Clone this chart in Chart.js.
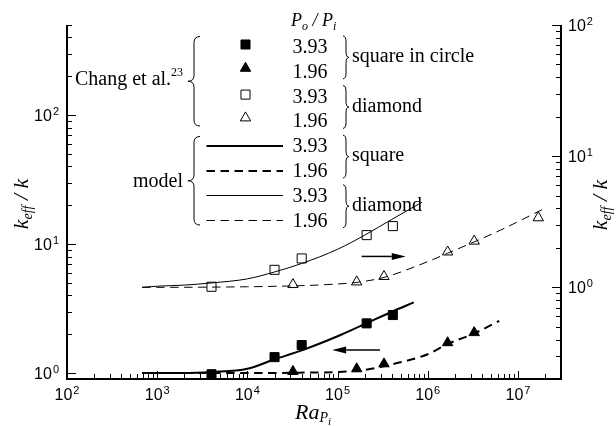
<!DOCTYPE html>
<html>
<head>
<meta charset="utf-8">
<script src="https://cdn.jsdelivr.net/npm/chart.js@4.4.0/dist/chart.umd.min.js"></script>
<style>
  html, body { margin: 0; padding: 0; background: #fff; }
  #wrap { width: 616px; height: 426px; position: relative; }
</style>
</head>
<body>
<div id="wrap"><canvas id="c" width="616" height="426"></canvas></div>
<script>
// ---- Experimental data (Chang et al.): Rayleigh number Ra_Pi and k_eff/k ----
const raSqCircle393 = [4.0e3, 2.0e4, 4.0e4, 2.1e5, 4.1e5];
const kSqCircle393  = [0.98, 1.33, 1.65, 2.43, 2.82];
const raSqCircle196 = [3.2e4, 1.63e5, 3.27e5, 1.66e6, 3.27e6];
const kSqCircle196  = [1.03, 1.08, 1.18, 1.72, 2.06];
const raDiamond393  = [4.0e3, 2.0e4, 4.0e4, 2.1e5, 4.1e5];
const kDiamond393   = [1.01, 1.36, 1.66, 2.5, 2.93];
const raDiamond196  = [3.2e4, 1.63e5, 3.27e5, 1.66e6, 3.27e6, 1.68e7];
const kDiamond196   = [1.05, 1.10, 1.21, 1.86, 2.25, 3.39];

// ---- Model curves ----
const raModelSquare393 = [680, 1e3, 2e3, 4e3, 1e4, 2e4, 4e4, 1e5, 2e5, 4e5, 7e5];
const kModelSquare393  = [1.0, 1.0, 1.0, 1.02, 1.08, 1.28, 1.5, 1.93, 2.4, 2.99, 3.53];
const raModelSquare196 = [680, 1e3, 1e4, 5e4, 1e5, 2e5, 4e5, 1e6, 1.66e6, 3.27e6, 6.2e6];
const kModelSquare196  = [1.0, 1.0, 1.0, 1.01, 1.02, 1.06, 1.17, 1.40, 1.68, 2.03, 2.54];
const raModelDiamond393 = [680, 1e3, 2e3, 4e3, 1e4, 2e4, 4e4, 1e5, 2e5, 4e5, 8.6e5];
const kModelDiamond393  = [1.0, 1.02, 1.04, 1.08, 1.16, 1.31, 1.52, 1.95, 2.5, 3.3, 4.45];
const raModelDiamond196 = [680, 1e3, 1e4, 4e4, 1e5, 1.63e5, 3.27e5, 1e6, 1.66e6, 3.27e6, 6.4e6, 1.88e7];
const kModelDiamond196  = [1.0, 1.0, 1.01, 1.03, 1.06, 1.09, 1.19, 1.57, 1.82, 2.22, 2.73, 3.93];

// ---- Legend texts ----
const ratioLabels = ['3.93', '1.96', '3.93', '1.96', '3.93', '1.96', '3.93', '1.96'];
const groupLabels = ['square in circle', 'diamond', 'square', 'diamond'];

// ---- Arrow annotations (which axis each family belongs to) ----
const arrowRightRa = [1.85e5, 5.7e5];  // points to the right-hand axis
const arrowRightK  = 1.72;
const arrowLeftRa  = [2.95e5, 8.7e4];  // points to the left-hand axis
const arrowLeftK   = 1.51;

const pts = (xs, ys) => xs.map((x, i) => ({ x: x, y: ys[i] }));
const DASH = [8.5, 5.5];

const modelLine = (data, axis, width, dash) => ({
  data: data, yAxisID: axis, showLine: true, fill: false,
  borderColor: '#000', borderWidth: width, borderDash: dash || [],
  pointRadius: 0, cubicInterpolationMode: 'monotone'
});
const marker = (data, axis, style, radius, filled) => ({
  data: data, yAxisID: axis, showLine: false,
  pointStyle: style, pointRadius: radius, pointHoverRadius: radius,
  pointBackgroundColor: filled ? '#000' : 'rgba(0,0,0,0)',
  pointBorderColor: '#000', pointBorderWidth: 1
});

const SERIF = '"Liberation Serif", "Times New Roman", serif';
const SANS = '"Liberation Sans", Arial, sans-serif';

function logTicks(min, max) {
  const out = [];
  for (let e = Math.floor(Math.log10(min)); e <= Math.ceil(Math.log10(max)); e++) {
    for (let m = 1; m <= 9; m++) {
      const v = m * Math.pow(10, e);
      if (v >= min * 0.999 && v <= max * 1.001) out.push({ v: v, major: m === 1, e: e });
    }
  }
  return out;
}

function powLabel(c, x, y, e, align) {
  c.font = '16px ' + SANS;
  const wb = c.measureText('10').width;
  c.font = '11px ' + SANS;
  const we = c.measureText(String(e)).width;
  const total = wb + 1 + we;
  let x0 = x;
  if (align === 'center') x0 = x - total / 2;
  else if (align === 'right') x0 = x - total;
  c.textAlign = 'left';
  c.textBaseline = 'alphabetic';
  c.font = '16px ' + SANS;
  c.fillText('10', x0, y);
  c.font = '11px ' + SANS;
  c.fillText(String(e), x0 + wb + 1, y - 6);
}

// pieces: [text, font, dy]
function richText(c, pieces, x, y, align) {
  let total = 0;
  pieces.forEach(p => { c.font = p[1]; total += c.measureText(p[0]).width; });
  let cx = align === 'center' ? x - total / 2 : (align === 'right' ? x - total : x);
  c.textAlign = 'left';
  c.textBaseline = 'alphabetic';
  pieces.forEach(p => {
    c.font = p[1];
    c.fillText(p[0], cx, y + p[2]);
    cx += c.measureText(p[0]).width;
  });
}

// curly brace; dir = 1 opens to the right "{", dir = -1 is "}"
function brace(c, xTip, y1, y2, w, dir) {
  const xs = xTip + dir * w / 2, xe = xTip + dir * w;
  const ym = (y1 + y2) / 2, r = Math.min(6, (y2 - y1) / 6);
  c.beginPath();
  c.moveTo(xe, y1);
  c.quadraticCurveTo(xs, y1, xs, y1 + r);
  c.lineTo(xs, ym - r);
  c.quadraticCurveTo(xs, ym, xTip, ym);
  c.quadraticCurveTo(xs, ym, xs, ym + r);
  c.lineTo(xs, y2 - r);
  c.quadraticCurveTo(xs, y2, xe, y2);
  c.stroke();
}

function drawSquare(c, x, y, r, filled) {
  const s = r * Math.SQRT1_2;
  c.beginPath();
  c.rect(x - s, y - s, 2 * s, 2 * s);
  if (filled) c.fill();
  c.stroke();
}
function drawTriangle(c, x, y, r, filled) {
  c.beginPath();
  c.moveTo(x, y - r);
  c.lineTo(x + 0.866 * r, y + 0.5 * r);
  c.lineTo(x - 0.866 * r, y + 0.5 * r);
  c.closePath();
  if (filled) c.fill();
  c.stroke();
}

function arrow(c, x1, y1, x2, y2) {
  const dir = Math.sign(x2 - x1), head = 14, hw = 3.5;
  c.beginPath();
  c.moveTo(x1, y1);
  c.lineTo(x2 - dir * head, y2);
  c.stroke();
  c.beginPath();
  c.moveTo(x2, y2);
  c.lineTo(x2 - dir * head, y2 - hw);
  c.lineTo(x2 - dir * head, y2 + hw);
  c.closePath();
  c.fill();
}

const decor = {
  id: 'decor',
  afterDraw(chart) {
    const c = chart.ctx, a = chart.chartArea;
    const sx = chart.scales.x, sy = chart.scales.y, sy2 = chart.scales.y2;
    c.save();
    c.strokeStyle = '#000';
    c.fillStyle = '#000';

    // frame: left, bottom and right axis lines
    c.lineWidth = 2;
    c.beginPath();
    c.moveTo(a.left, a.top);
    c.lineTo(a.left, a.bottom);
    c.lineTo(a.right, a.bottom);
    c.lineTo(a.right, a.top);
    c.stroke();

    // inward ticks
    c.lineWidth = 1;
    c.beginPath();
    logTicks(sx.min, sx.max).forEach(t => {
      const px = Math.round(sx.getPixelForValue(t.v)) + 0.5;
      const len = t.major ? 8 : 5;
      c.moveTo(px, a.bottom);
      c.lineTo(px, a.bottom - len);
    });
    logTicks(sy.min, sy.max).forEach(t => {
      const py = Math.round(sy.getPixelForValue(t.v)) + 0.5;
      const len = t.major ? 9 : 5;
      c.moveTo(a.left, py);
      c.lineTo(a.left + len, py);
    });
    logTicks(sy2.min, sy2.max).forEach(t => {
      const py = Math.round(sy2.getPixelForValue(t.v)) + 0.5;
      const len = t.major ? 9 : 5;
      c.moveTo(a.right, py);
      c.lineTo(a.right - len, py);
    });
    c.stroke();

    // tick labels
    logTicks(sx.min, sx.max).filter(t => t.major).forEach(t => {
      powLabel(c, sx.getPixelForValue(t.v), a.bottom + 21, t.e, 'center');
    });
    logTicks(sy.min, sy.max).filter(t => t.major).forEach(t => {
      powLabel(c, a.left - 8, sy.getPixelForValue(t.v) + 6, t.e, 'right');
    });
    logTicks(sy2.min, sy2.max).filter(t => t.major).forEach(t => {
      powLabel(c, a.right + 7, sy2.getPixelForValue(t.v) + 6, t.e, 'left');
    });

    // axis titles
    const ttl = [
      ['k', 'italic 22px ' + SERIF, 0],
      ['eff', 'italic 14px ' + SERIF, 4],
      [' / k', 'italic 22px ' + SERIF, 0]
    ];
    c.save();
    c.translate(28, 204);
    c.rotate(-Math.PI / 2);
    richText(c, ttl, 0, 0, 'center');
    c.restore();
    c.save();
    c.translate(607, 205);
    c.rotate(-Math.PI / 2);
    richText(c, ttl, 0, 0, 'center');
    c.restore();
    richText(c, [
      ['Ra', 'italic 22px ' + SERIF, 0],
      ['P', 'italic 14px ' + SERIF, 3],
      ['i', 'italic 11px ' + SERIF, 6]
    ], 295, 419, 'left');

    // arrows
    c.lineWidth = 1.5;
    arrow(c, sx.getPixelForValue(arrowRightRa[0]), sy2.getPixelForValue(arrowRightK),
             sx.getPixelForValue(arrowRightRa[1]), sy2.getPixelForValue(arrowRightK));
    arrow(c, sx.getPixelForValue(arrowLeftRa[0]), sy.getPixelForValue(arrowLeftK),
             sx.getPixelForValue(arrowLeftRa[1]), sy.getPixelForValue(arrowLeftK));

    // ---- legend ----
    const base = ratioLabels.map((_, i) => 53 + 24.8 * i);
    richText(c, [
      ['P', 'italic 18px ' + SERIF, 0],
      ['o', 'italic 12px ' + SERIF, 4],
      [' / ', 'italic 18px ' + SERIF, 0],
      ['P', 'italic 18px ' + SERIF, 0],
      ['i', 'italic 12px ' + SERIF, 4]
    ], 291, 26, 'left');

    c.font = '20px ' + SERIF;
    c.textAlign = 'left';
    c.textBaseline = 'alphabetic';
    ratioLabels.forEach((t, i) => c.fillText(t, 292.5, base[i]));

    // symbols
    c.lineWidth = 1;
    drawSquare(c, 245.5, base[0] - 8.5, 6.4, true);
    drawTriangle(c, 245.5, base[1] - 9.5, 6, true);
    drawSquare(c, 245.5, base[2] - 8, 6.4, false);
    drawTriangle(c, 245.5, base[3] - 9.5, 6, false);
    // line samples
    const lineRows = [[4, 2, []], [5, 2, DASH], [6, 1, []], [7, 1, DASH]];
    lineRows.forEach(r => {
      const y = Math.round(base[r[0]] - 6.5) + (r[1] === 1 ? 0.5 : 0);
      c.lineWidth = r[1];
      c.setLineDash(r[2]);
      c.beginPath();
      c.moveTo(206.5, y);
      c.lineTo(283, y);
      c.stroke();
    });
    c.setLineDash([]);

    // braces
    c.lineWidth = 1;
    for (let g = 0; g < 4; g++) {
      const b1 = base[2 * g], b2 = base[2 * g + 1];
      brace(c, 349, b1 - 17, b2 + 1, 6, -1);
      c.font = '20px ' + SERIF;
      c.fillText(groupLabels[g], 352, (b1 + b2) / 2 - 3.5);
    }
    brace(c, 188, 36.5, 126, 12, 1);
    brace(c, 188, 136.5, 225, 12, 1);
    richText(c, [
      ['Chang et al.', '20px ' + SERIF, 0],
      ['23', '12px ' + SERIF, -9]
    ], 75, 85, 'left');
    c.font = '20px ' + SERIF;
    c.textAlign = 'left';
    c.fillText('model', 133, 187);

    c.restore();
  }
};

new Chart(document.getElementById('c'), {
  type: 'scatter',
  data: {
    datasets: [
      modelLine(pts(raModelSquare393, kModelSquare393), 'y', 2),
      modelLine(pts(raModelSquare196, kModelSquare196), 'y', 2, DASH),
      modelLine(pts(raModelDiamond393, kModelDiamond393), 'y2', 1),
      modelLine(pts(raModelDiamond196, kModelDiamond196), 'y2', 1, DASH),
      marker(pts(raSqCircle393, kSqCircle393), 'y', 'rect', 6.4, true),
      marker(pts(raSqCircle196, kSqCircle196), 'y', 'triangle', 6, true),
      marker(pts(raDiamond393, kDiamond393), 'y2', 'rect', 6.4, false),
      marker(pts(raDiamond196, kDiamond196), 'y2', 'triangle', 6, false)
    ]
  },
  options: {
    responsive: false,
    animation: false,
    events: [],
    layout: { padding: { left: 67, right: 55, top: 25, bottom: 47 } },
    plugins: { legend: { display: false }, tooltip: { enabled: false } },
    scales: {
      x: { type: 'logarithmic', min: 100, max: 3e7, display: false },
      y: { type: 'logarithmic', position: 'left', min: 0.9, max: 500, display: false },
      y2: { type: 'logarithmic', position: 'right', min: 0.2, max: 100, display: false }
    }
  },
  plugins: [decor]
});
</script>
</body>
</html>
